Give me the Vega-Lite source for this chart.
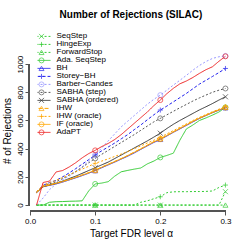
{
"$schema": "https://vega.github.io/schema/vega-lite/v6.json",
"autosize": "none",
"width": 204,
"height": 161,
"padding": {"left": 29, "top": 50, "right": 16, "bottom": 38},
"title": {"text": "Number of Rejections (SILAC)", "fontSize": 10, "font": "Liberation Sans", "fontWeight": "bold", "anchor": "middle", "offset": 1, "dy": -11, "color": "#000"},
"config": {"font": "Liberation Sans", "view": {"stroke": null},
  "legend": {"rowPadding": 0, "clipHeight": 8, "padding": 0, "symbolStrokeWidth": 1, "labelFontSize": 8},
  "axis": {"grid": false, "domain": false, "tickColor": "#555", "tickSize": 4, "labelFontSize": 8, "labelColor": "#000", "titleFontSize": 10, "titleFontWeight": "normal", "titleColor": "#000", "labelFont": "Liberation Sans", "titleFont": "Liberation Sans"}},
"data": {"values": [
{"m":"SeqStep","x":0.01,"y":0},{"m":"SeqStep","x":0.02,"y":0},{"m":"SeqStep","x":0.03,"y":0},{"m":"SeqStep","x":0.04,"y":0},{"m":"SeqStep","x":0.05,"y":0},{"m":"SeqStep","x":0.06,"y":0},{"m":"SeqStep","x":0.07,"y":0},{"m":"SeqStep","x":0.08,"y":0},{"m":"SeqStep","x":0.09,"y":0},{"m":"SeqStep","x":0.1,"y":0},{"m":"SeqStep","x":0.11,"y":0},{"m":"SeqStep","x":0.12,"y":0},{"m":"SeqStep","x":0.13,"y":0},{"m":"SeqStep","x":0.14,"y":0},{"m":"SeqStep","x":0.15,"y":0},{"m":"SeqStep","x":0.16,"y":0},{"m":"SeqStep","x":0.17,"y":0},{"m":"SeqStep","x":0.18,"y":0},{"m":"SeqStep","x":0.19,"y":0},{"m":"SeqStep","x":0.2,"y":0},{"m":"SeqStep","x":0.21,"y":0},{"m":"SeqStep","x":0.22,"y":0},{"m":"SeqStep","x":0.23,"y":0},{"m":"SeqStep","x":0.24,"y":0},{"m":"SeqStep","x":0.25,"y":0},{"m":"SeqStep","x":0.26,"y":0},{"m":"SeqStep","x":0.27,"y":0},{"m":"SeqStep","x":0.28,"y":0},{"m":"SeqStep","x":0.29,"y":0},{"m":"SeqStep","x":0.3,"y":95},
{"m":"HingeExp","x":0.01,"y":0},{"m":"HingeExp","x":0.02,"y":0},{"m":"HingeExp","x":0.03,"y":0},{"m":"HingeExp","x":0.04,"y":0},{"m":"HingeExp","x":0.05,"y":0},{"m":"HingeExp","x":0.06,"y":0},{"m":"HingeExp","x":0.07,"y":0},{"m":"HingeExp","x":0.08,"y":0},{"m":"HingeExp","x":0.09,"y":0},{"m":"HingeExp","x":0.1,"y":0},{"m":"HingeExp","x":0.11,"y":0},{"m":"HingeExp","x":0.12,"y":0},{"m":"HingeExp","x":0.13,"y":0},{"m":"HingeExp","x":0.14,"y":0},{"m":"HingeExp","x":0.15,"y":0},{"m":"HingeExp","x":0.16,"y":0},{"m":"HingeExp","x":0.17,"y":20},{"m":"HingeExp","x":0.18,"y":30},{"m":"HingeExp","x":0.19,"y":45},{"m":"HingeExp","x":0.2,"y":59},{"m":"HingeExp","x":0.21,"y":88},{"m":"HingeExp","x":0.22,"y":94},{"m":"HingeExp","x":0.23,"y":95},{"m":"HingeExp","x":0.24,"y":95},{"m":"HingeExp","x":0.25,"y":96},{"m":"HingeExp","x":0.26,"y":96},{"m":"HingeExp","x":0.27,"y":97},{"m":"HingeExp","x":0.28,"y":100},{"m":"HingeExp","x":0.29,"y":125},{"m":"HingeExp","x":0.3,"y":142},
{"m":"ForwardStop","x":0.01,"y":0},{"m":"ForwardStop","x":0.02,"y":0},{"m":"ForwardStop","x":0.03,"y":0},{"m":"ForwardStop","x":0.04,"y":0},{"m":"ForwardStop","x":0.05,"y":0},{"m":"ForwardStop","x":0.06,"y":0},{"m":"ForwardStop","x":0.07,"y":0},{"m":"ForwardStop","x":0.08,"y":0},{"m":"ForwardStop","x":0.09,"y":0},{"m":"ForwardStop","x":0.1,"y":0},{"m":"ForwardStop","x":0.11,"y":0},{"m":"ForwardStop","x":0.12,"y":0},{"m":"ForwardStop","x":0.13,"y":0},{"m":"ForwardStop","x":0.14,"y":0},{"m":"ForwardStop","x":0.15,"y":0},{"m":"ForwardStop","x":0.16,"y":0},{"m":"ForwardStop","x":0.17,"y":0},{"m":"ForwardStop","x":0.18,"y":0},{"m":"ForwardStop","x":0.19,"y":0},{"m":"ForwardStop","x":0.2,"y":0},{"m":"ForwardStop","x":0.21,"y":0},{"m":"ForwardStop","x":0.22,"y":0},{"m":"ForwardStop","x":0.23,"y":0},{"m":"ForwardStop","x":0.24,"y":0},{"m":"ForwardStop","x":0.25,"y":0},{"m":"ForwardStop","x":0.26,"y":0},{"m":"ForwardStop","x":0.27,"y":0},{"m":"ForwardStop","x":0.28,"y":0},{"m":"ForwardStop","x":0.29,"y":0},{"m":"ForwardStop","x":0.3,"y":0},
{"m":"Ada. SeqStep","x":0.01,"y":0},{"m":"Ada. SeqStep","x":0.02,"y":0},{"m":"Ada. SeqStep","x":0.03,"y":20},{"m":"Ada. SeqStep","x":0.04,"y":24},{"m":"Ada. SeqStep","x":0.05,"y":25},{"m":"Ada. SeqStep","x":0.06,"y":27},{"m":"Ada. SeqStep","x":0.07,"y":28},{"m":"Ada. SeqStep","x":0.08,"y":30},{"m":"Ada. SeqStep","x":0.09,"y":100},{"m":"Ada. SeqStep","x":0.1,"y":150},{"m":"Ada. SeqStep","x":0.11,"y":156},{"m":"Ada. SeqStep","x":0.12,"y":166},{"m":"Ada. SeqStep","x":0.13,"y":205},{"m":"Ada. SeqStep","x":0.14,"y":236},{"m":"Ada. SeqStep","x":0.15,"y":246},{"m":"Ada. SeqStep","x":0.16,"y":255},{"m":"Ada. SeqStep","x":0.17,"y":263},{"m":"Ada. SeqStep","x":0.18,"y":292},{"m":"Ada. SeqStep","x":0.19,"y":312},{"m":"Ada. SeqStep","x":0.2,"y":338},{"m":"Ada. SeqStep","x":0.21,"y":352},{"m":"Ada. SeqStep","x":0.22,"y":368},{"m":"Ada. SeqStep","x":0.23,"y":460},{"m":"Ada. SeqStep","x":0.24,"y":540},{"m":"Ada. SeqStep","x":0.25,"y":568},{"m":"Ada. SeqStep","x":0.26,"y":600},{"m":"Ada. SeqStep","x":0.27,"y":618},{"m":"Ada. SeqStep","x":0.28,"y":638},{"m":"Ada. SeqStep","x":0.29,"y":660},{"m":"Ada. SeqStep","x":0.3,"y":693},
{"m":"BH","x":0.01,"y":88},{"m":"BH","x":0.02,"y":130},{"m":"BH","x":0.03,"y":140},{"m":"BH","x":0.04,"y":150},{"m":"BH","x":0.05,"y":163},{"m":"BH","x":0.06,"y":178},{"m":"BH","x":0.07,"y":193},{"m":"BH","x":0.08,"y":209},{"m":"BH","x":0.09,"y":226},{"m":"BH","x":0.1,"y":244},{"m":"BH","x":0.11,"y":265},{"m":"BH","x":0.12,"y":285},{"m":"BH","x":0.13,"y":305},{"m":"BH","x":0.14,"y":326},{"m":"BH","x":0.15,"y":347},{"m":"BH","x":0.16,"y":370},{"m":"BH","x":0.17,"y":395},{"m":"BH","x":0.18,"y":420},{"m":"BH","x":0.19,"y":444},{"m":"BH","x":0.2,"y":466},{"m":"BH","x":0.21,"y":490},{"m":"BH","x":0.22,"y":516},{"m":"BH","x":0.23,"y":540},{"m":"BH","x":0.24,"y":565},{"m":"BH","x":0.25,"y":590},{"m":"BH","x":0.26,"y":614},{"m":"BH","x":0.27,"y":635},{"m":"BH","x":0.28,"y":655},{"m":"BH","x":0.29,"y":673},{"m":"BH","x":0.3,"y":690},
{"m":"Storey−BH","x":0.01,"y":92},{"m":"Storey−BH","x":0.02,"y":140},{"m":"Storey−BH","x":0.03,"y":160},{"m":"Storey−BH","x":0.04,"y":175},{"m":"Storey−BH","x":0.05,"y":200},{"m":"Storey−BH","x":0.06,"y":228},{"m":"Storey−BH","x":0.07,"y":258},{"m":"Storey−BH","x":0.08,"y":290},{"m":"Storey−BH","x":0.09,"y":322},{"m":"Storey−BH","x":0.1,"y":355},{"m":"Storey−BH","x":0.11,"y":385},{"m":"Storey−BH","x":0.12,"y":412},{"m":"Storey−BH","x":0.13,"y":440},{"m":"Storey−BH","x":0.14,"y":470},{"m":"Storey−BH","x":0.15,"y":500},{"m":"Storey−BH","x":0.16,"y":535},{"m":"Storey−BH","x":0.17,"y":568},{"m":"Storey−BH","x":0.18,"y":605},{"m":"Storey−BH","x":0.19,"y":640},{"m":"Storey−BH","x":0.2,"y":674},{"m":"Storey−BH","x":0.21,"y":702},{"m":"Storey−BH","x":0.22,"y":732},{"m":"Storey−BH","x":0.23,"y":762},{"m":"Storey−BH","x":0.24,"y":792},{"m":"Storey−BH","x":0.25,"y":825},{"m":"Storey−BH","x":0.26,"y":858},{"m":"Storey−BH","x":0.27,"y":885},{"m":"Storey−BH","x":0.28,"y":912},{"m":"Storey−BH","x":0.29,"y":940},{"m":"Storey−BH","x":0.3,"y":969},
{"m":"Barber−Candes","x":0.01,"y":0},{"m":"Barber−Candes","x":0.02,"y":50},{"m":"Barber−Candes","x":0.03,"y":110},{"m":"Barber−Candes","x":0.04,"y":150},{"m":"Barber−Candes","x":0.05,"y":180},{"m":"Barber−Candes","x":0.06,"y":205},{"m":"Barber−Candes","x":0.07,"y":235},{"m":"Barber−Candes","x":0.08,"y":270},{"m":"Barber−Candes","x":0.09,"y":312},{"m":"Barber−Candes","x":0.1,"y":355},{"m":"Barber−Candes","x":0.11,"y":405},{"m":"Barber−Candes","x":0.12,"y":455},{"m":"Barber−Candes","x":0.13,"y":505},{"m":"Barber−Candes","x":0.14,"y":555},{"m":"Barber−Candes","x":0.15,"y":595},{"m":"Barber−Candes","x":0.16,"y":635},{"m":"Barber−Candes","x":0.17,"y":675},{"m":"Barber−Candes","x":0.18,"y":715},{"m":"Barber−Candes","x":0.19,"y":750},{"m":"Barber−Candes","x":0.2,"y":780},{"m":"Barber−Candes","x":0.21,"y":815},{"m":"Barber−Candes","x":0.22,"y":851},{"m":"Barber−Candes","x":0.23,"y":885},{"m":"Barber−Candes","x":0.24,"y":920},{"m":"Barber−Candes","x":0.25,"y":957},{"m":"Barber−Candes","x":0.26,"y":990},{"m":"Barber−Candes","x":0.27,"y":1018},{"m":"Barber−Candes","x":0.28,"y":1040},{"m":"Barber−Candes","x":0.29,"y":1052},{"m":"Barber−Candes","x":0.3,"y":1058},
{"m":"SABHA (step)","x":0.01,"y":92},{"m":"SABHA (step)","x":0.02,"y":135},{"m":"SABHA (step)","x":0.03,"y":150},{"m":"SABHA (step)","x":0.04,"y":165},{"m":"SABHA (step)","x":0.05,"y":188},{"m":"SABHA (step)","x":0.06,"y":212},{"m":"SABHA (step)","x":0.07,"y":238},{"m":"SABHA (step)","x":0.08,"y":268},{"m":"SABHA (step)","x":0.09,"y":300},{"m":"SABHA (step)","x":0.1,"y":331},{"m":"SABHA (step)","x":0.11,"y":360},{"m":"SABHA (step)","x":0.12,"y":388},{"m":"SABHA (step)","x":0.13,"y":416},{"m":"SABHA (step)","x":0.14,"y":444},{"m":"SABHA (step)","x":0.15,"y":472},{"m":"SABHA (step)","x":0.16,"y":500},{"m":"SABHA (step)","x":0.17,"y":530},{"m":"SABHA (step)","x":0.18,"y":560},{"m":"SABHA (step)","x":0.19,"y":590},{"m":"SABHA (step)","x":0.2,"y":615},{"m":"SABHA (step)","x":0.21,"y":640},{"m":"SABHA (step)","x":0.22,"y":665},{"m":"SABHA (step)","x":0.23,"y":690},{"m":"SABHA (step)","x":0.24,"y":714},{"m":"SABHA (step)","x":0.25,"y":738},{"m":"SABHA (step)","x":0.26,"y":760},{"m":"SABHA (step)","x":0.27,"y":780},{"m":"SABHA (step)","x":0.28,"y":800},{"m":"SABHA (step)","x":0.29,"y":815},{"m":"SABHA (step)","x":0.3,"y":827},
{"m":"SABHA (ordered)","x":0.01,"y":90},{"m":"SABHA (ordered)","x":0.02,"y":130},{"m":"SABHA (ordered)","x":0.03,"y":143},{"m":"SABHA (ordered)","x":0.04,"y":155},{"m":"SABHA (ordered)","x":0.05,"y":170},{"m":"SABHA (ordered)","x":0.06,"y":188},{"m":"SABHA (ordered)","x":0.07,"y":205},{"m":"SABHA (ordered)","x":0.08,"y":225},{"m":"SABHA (ordered)","x":0.09,"y":245},{"m":"SABHA (ordered)","x":0.1,"y":265},{"m":"SABHA (ordered)","x":0.11,"y":285},{"m":"SABHA (ordered)","x":0.12,"y":305},{"m":"SABHA (ordered)","x":0.13,"y":330},{"m":"SABHA (ordered)","x":0.14,"y":355},{"m":"SABHA (ordered)","x":0.15,"y":380},{"m":"SABHA (ordered)","x":0.16,"y":405},{"m":"SABHA (ordered)","x":0.17,"y":430},{"m":"SABHA (ordered)","x":0.18,"y":455},{"m":"SABHA (ordered)","x":0.19,"y":482},{"m":"SABHA (ordered)","x":0.2,"y":510},{"m":"SABHA (ordered)","x":0.21,"y":543},{"m":"SABHA (ordered)","x":0.22,"y":573},{"m":"SABHA (ordered)","x":0.23,"y":600},{"m":"SABHA (ordered)","x":0.24,"y":625},{"m":"SABHA (ordered)","x":0.25,"y":650},{"m":"SABHA (ordered)","x":0.26,"y":675},{"m":"SABHA (ordered)","x":0.27,"y":697},{"m":"SABHA (ordered)","x":0.28,"y":720},{"m":"SABHA (ordered)","x":0.29,"y":745},{"m":"SABHA (ordered)","x":0.3,"y":768},
{"m":"IHW","x":0.01,"y":90},{"m":"IHW","x":0.02,"y":135},{"m":"IHW","x":0.03,"y":145},{"m":"IHW","x":0.04,"y":155},{"m":"IHW","x":0.05,"y":168},{"m":"IHW","x":0.06,"y":182},{"m":"IHW","x":0.07,"y":198},{"m":"IHW","x":0.08,"y":214},{"m":"IHW","x":0.09,"y":230},{"m":"IHW","x":0.1,"y":248},{"m":"IHW","x":0.11,"y":270},{"m":"IHW","x":0.12,"y":290},{"m":"IHW","x":0.13,"y":310},{"m":"IHW","x":0.14,"y":330},{"m":"IHW","x":0.15,"y":352},{"m":"IHW","x":0.16,"y":376},{"m":"IHW","x":0.17,"y":400},{"m":"IHW","x":0.18,"y":425},{"m":"IHW","x":0.19,"y":450},{"m":"IHW","x":0.2,"y":470},{"m":"IHW","x":0.21,"y":495},{"m":"IHW","x":0.22,"y":520},{"m":"IHW","x":0.23,"y":545},{"m":"IHW","x":0.24,"y":570},{"m":"IHW","x":0.25,"y":595},{"m":"IHW","x":0.26,"y":618},{"m":"IHW","x":0.27,"y":638},{"m":"IHW","x":0.28,"y":658},{"m":"IHW","x":0.29,"y":676},{"m":"IHW","x":0.3,"y":693},
{"m":"IHW (oracle)","x":0.01,"y":95},{"m":"IHW (oracle)","x":0.02,"y":140},{"m":"IHW (oracle)","x":0.03,"y":160},{"m":"IHW (oracle)","x":0.04,"y":175},{"m":"IHW (oracle)","x":0.05,"y":195},{"m":"IHW (oracle)","x":0.06,"y":215},{"m":"IHW (oracle)","x":0.07,"y":235},{"m":"IHW (oracle)","x":0.08,"y":255},{"m":"IHW (oracle)","x":0.09,"y":275},{"m":"IHW (oracle)","x":0.1,"y":296},{"m":"IHW (oracle)","x":0.11,"y":312},{"m":"IHW (oracle)","x":0.12,"y":328},{"m":"IHW (oracle)","x":0.13,"y":345},{"m":"IHW (oracle)","x":0.14,"y":362},{"m":"IHW (oracle)","x":0.15,"y":380},{"m":"IHW (oracle)","x":0.16,"y":400},{"m":"IHW (oracle)","x":0.17,"y":420},{"m":"IHW (oracle)","x":0.18,"y":440},{"m":"IHW (oracle)","x":0.19,"y":460},{"m":"IHW (oracle)","x":0.2,"y":480},{"m":"IHW (oracle)","x":0.21,"y":505},{"m":"IHW (oracle)","x":0.22,"y":528},{"m":"IHW (oracle)","x":0.23,"y":552},{"m":"IHW (oracle)","x":0.24,"y":576},{"m":"IHW (oracle)","x":0.25,"y":600},{"m":"IHW (oracle)","x":0.26,"y":622},{"m":"IHW (oracle)","x":0.27,"y":642},{"m":"IHW (oracle)","x":0.28,"y":662},{"m":"IHW (oracle)","x":0.29,"y":680},{"m":"IHW (oracle)","x":0.3,"y":698},
{"m":"IF (oracle)","x":0.01,"y":88},{"m":"IF (oracle)","x":0.02,"y":132},{"m":"IF (oracle)","x":0.03,"y":142},{"m":"IF (oracle)","x":0.04,"y":153},{"m":"IF (oracle)","x":0.05,"y":166},{"m":"IF (oracle)","x":0.06,"y":180},{"m":"IF (oracle)","x":0.07,"y":196},{"m":"IF (oracle)","x":0.08,"y":212},{"m":"IF (oracle)","x":0.09,"y":229},{"m":"IF (oracle)","x":0.1,"y":246},{"m":"IF (oracle)","x":0.11,"y":268},{"m":"IF (oracle)","x":0.12,"y":288},{"m":"IF (oracle)","x":0.13,"y":308},{"m":"IF (oracle)","x":0.14,"y":329},{"m":"IF (oracle)","x":0.15,"y":351},{"m":"IF (oracle)","x":0.16,"y":374},{"m":"IF (oracle)","x":0.17,"y":398},{"m":"IF (oracle)","x":0.18,"y":423},{"m":"IF (oracle)","x":0.19,"y":448},{"m":"IF (oracle)","x":0.2,"y":468},{"m":"IF (oracle)","x":0.21,"y":493},{"m":"IF (oracle)","x":0.22,"y":518},{"m":"IF (oracle)","x":0.23,"y":543},{"m":"IF (oracle)","x":0.24,"y":568},{"m":"IF (oracle)","x":0.25,"y":593},{"m":"IF (oracle)","x":0.26,"y":616},{"m":"IF (oracle)","x":0.27,"y":636},{"m":"IF (oracle)","x":0.28,"y":656},{"m":"IF (oracle)","x":0.29,"y":675},{"m":"IF (oracle)","x":0.3,"y":692},
{"m":"AdaPT","x":0.01,"y":0},{"m":"AdaPT","x":0.02,"y":160},{"m":"AdaPT","x":0.03,"y":170},{"m":"AdaPT","x":0.04,"y":235},{"m":"AdaPT","x":0.05,"y":245},{"m":"AdaPT","x":0.06,"y":270},{"m":"AdaPT","x":0.07,"y":300},{"m":"AdaPT","x":0.08,"y":335},{"m":"AdaPT","x":0.09,"y":365},{"m":"AdaPT","x":0.1,"y":388},{"m":"AdaPT","x":0.11,"y":415},{"m":"AdaPT","x":0.12,"y":437},{"m":"AdaPT","x":0.13,"y":465},{"m":"AdaPT","x":0.14,"y":500},{"m":"AdaPT","x":0.15,"y":540},{"m":"AdaPT","x":0.16,"y":580},{"m":"AdaPT","x":0.17,"y":620},{"m":"AdaPT","x":0.18,"y":660},{"m":"AdaPT","x":0.19,"y":705},{"m":"AdaPT","x":0.2,"y":745},{"m":"AdaPT","x":0.21,"y":790},{"m":"AdaPT","x":0.22,"y":828},{"m":"AdaPT","x":0.23,"y":860},{"m":"AdaPT","x":0.24,"y":880},{"m":"AdaPT","x":0.25,"y":905},{"m":"AdaPT","x":0.26,"y":934},{"m":"AdaPT","x":0.27,"y":960},{"m":"AdaPT","x":0.28,"y":981},{"m":"AdaPT","x":0.29,"y":1020},{"m":"AdaPT","x":0.3,"y":1055}
]},
"encoding": {
  "x": {"field": "x", "type": "quantitative", "scale": {"domain": [-0.0016, 0.3116], "nice": false, "zero": false}, "axis": {"values": [0, 0.1, 0.2, 0.3], "format": ".1f", "labelPadding": 2, "titlePadding": 3, "title": "Target FDR level α"}},
  "y": {"field": "y", "type": "quantitative", "scale": {"domain": [-42, 1100], "nice": false, "zero": false}, "axis": {"values": [0, 200, 400, 600, 800, 1000], "format": "d", "labelAngle": 270, "labelPadding": 1, "titlePadding": 4, "title": "# of Rejections"}}
},
"layer": [
  {"mark": {"type": "line", "strokeWidth": 1},
   "encoding": {
     "color": {"field": "m", "type": "nominal",
       "scale": {"domain": ["SeqStep","HingeExp","ForwardStop","Ada. SeqStep","BH","Storey−BH","Barber−Candes","SABHA (step)","SABHA (ordered)","IHW","IHW (oracle)","IF (oracle)","AdaPT"],
                 "range": ["#33cc33","#33cc33","#33cc33","#33cc33","#2222ee","#2222ee","#9999ff","#555555","#333333","#ffa500","#ffa500","#ffa500","#ee2222"]},
       "legend": {"orient": "none", "legendX": 8.5, "legendY": -17.6, "title": null, "symbolType": "M-4,0L4,0", "symbolSize": 20, "symbolStrokeWidth": 1, "labelFontSize": 8, "labelFont": "Liberation Sans", "labelColor": "#000", "labelOffset": 11, "rowPadding": 0, "clipHeight": 8, "padding": 0, "labelLimit": 200}},
     "strokeDash": {"field": "m", "type": "nominal",
       "scale": {"domain": ["SeqStep","HingeExp","ForwardStop","Ada. SeqStep","BH","Storey−BH","Barber−Candes","SABHA (step)","SABHA (ordered)","IHW","IHW (oracle)","IF (oracle)","AdaPT"],
                 "range": [[2,2],[2,2],[2,2],[1,0],[1,0],[3,2],[2,2],[2,2],[1,0],[4,2],[2,2],[1,0],[1,0]]}}
   }},
  {"transform": [
     {"filter": {"field": "x", "oneOf": [0.1, 0.2, 0.3]}},
     {"lookup": "m", "from": {"data": {"values": [
        {"m":"SeqStep","k":1},{"m":"HingeExp","k":2},{"m":"ForwardStop","k":3},{"m":"Ada. SeqStep","k":4},{"m":"BH","k":5},{"m":"Storey−BH","k":6},{"m":"Barber−Candes","k":7},{"m":"SABHA (step)","k":8},{"m":"SABHA (ordered)","k":9},{"m":"IHW","k":10},{"m":"IHW (oracle)","k":11},{"m":"IF (oracle)","k":12},{"m":"AdaPT","k":13}]}, "key": "m", "fields": ["k"]}}
   ],
   "mark": {"type": "point", "filled": false, "size": 25, "strokeWidth": 1},
   "encoding": {
     "stroke": {"field": "k", "type": "nominal",
       "scale": {"domain": [1,2,3,4,5,6,7,8,9,10,11,12,13],
                 "range": ["#33cc33","#33cc33","#33cc33","#33cc33","#2222ee","#2222ee","#9999ff","#555555","#333333","#ffa500","#ffa500","#ffa500","#ee2222"]},
       "legend": {"orient": "none", "legendX": 8.5, "legendY": -17.6, "title": null, "symbolSize": 25, "symbolStrokeWidth": 1, "symbolFillColor": "transparent", "labelFontSize": 8, "labelExpr": "' '", "rowPadding": 0, "clipHeight": 8, "padding": 0}},
     "shape": {"field": "k", "type": "nominal",
       "scale": {"domain": [1,2,3,4,5,6,7,8,9,10,11,12,13],
                 "range": ["M-1,-1L1,1M-1,1L1,-1","M-1,0L1,0M0,-1L0,1","triangle-up","circle","triangle-up","M-1,0L1,0M0,-1L0,1","circle","circle","M-1,-1L1,1M-1,1L1,-1","triangle-up","M-1,0L1,0M0,-1L0,1","circle","circle"]},
       "legend": {"orient": "none", "legendX": 8.5, "legendY": -17.6, "title": null, "symbolSize": 25, "symbolStrokeWidth": 1, "symbolFillColor": "transparent", "labelFontSize": 8, "labelExpr": "' '", "rowPadding": 0, "clipHeight": 8, "padding": 0}}
   }},
  {"mark": {"type": "rule", "color": "#555", "strokeWidth": 1},
   "encoding": {"x": {"datum": 0}, "x2": {"datum": 0.3}, "y": {"datum": -42}}},
  {"mark": {"type": "rule", "color": "#555", "strokeWidth": 1},
   "encoding": {"y": {"datum": 0}, "y2": {"datum": 1000}, "x": {"datum": -0.0016}}}
]
}
